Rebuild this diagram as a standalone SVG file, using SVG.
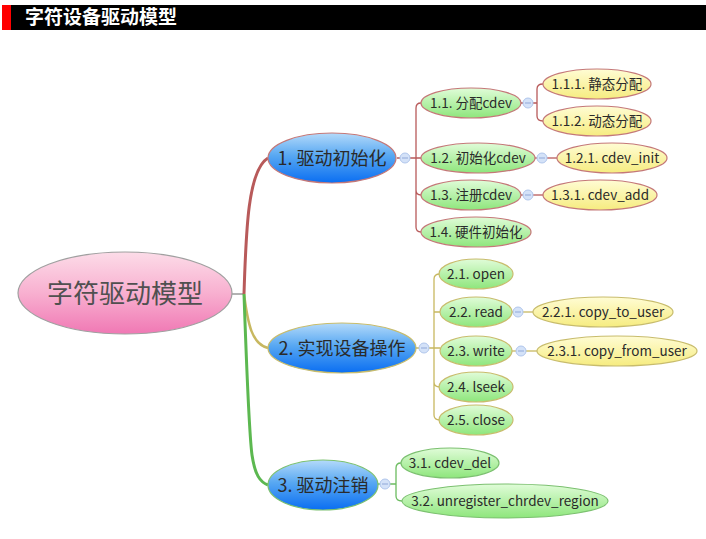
<svg xmlns="http://www.w3.org/2000/svg" width="706" height="539" viewBox="0 0 706 539">
<defs>
<linearGradient id="gPink" x1="0" y1="0" x2="0" y2="1"><stop offset="0" stop-color="#fcdce8"/><stop offset="0.5" stop-color="#f8b0d0"/><stop offset="1" stop-color="#f078b4"/></linearGradient>
<linearGradient id="gBlue" x1="0" y1="0" x2="0" y2="1"><stop offset="0" stop-color="#b4dafa"/><stop offset="0.45" stop-color="#58a8f2"/><stop offset="1" stop-color="#0a6ef2"/></linearGradient>
<linearGradient id="gGreen" x1="0" y1="0" x2="0" y2="1"><stop offset="0" stop-color="#e0fcd8"/><stop offset="1" stop-color="#8ee67c"/></linearGradient>
<linearGradient id="gYellow" x1="0" y1="0" x2="0" y2="1"><stop offset="0" stop-color="#fffcd4"/><stop offset="1" stop-color="#f6ec80"/></linearGradient>
</defs>
<style>
text{font-family:"Noto Sans CJK SC","Noto Sans",sans-serif;text-anchor:middle;fill:#2a2a2a}
.l1{font-size:18px}
.l2{font-size:13.5px}
.root{font-size:26px;fill:#505050}
.blue{fill:url(#gBlue)}
.green{fill:url(#gGreen)}
.yellow{fill:url(#gYellow)}
.sr{stroke:#c47878;stroke-width:1.2}
.so{stroke:#c8bc6c;stroke-width:1.2}
.sg{stroke:#7cc070;stroke-width:1.2}
.cr{fill:none;stroke:#b85a5a;stroke-width:1.3}
.co{fill:none;stroke:#c8b860;stroke-width:1.3}
.cg{fill:none;stroke:#6cbc60;stroke-width:1.3}
.dot{fill:#d4e2f8;stroke:#b0c6ec;stroke-width:1}
.dm{stroke:#90a8d8;stroke-width:1}
</style>
<g id="header">
<rect x="2" y="5" width="704" height="25" fill="#000"/>
<rect x="2" y="5" width="9" height="25" fill="#ff0000"/>
<text x="25" y="24" style="text-anchor:start;font-size:19px;font-weight:bold;fill:#fff">字符设备驱动模型</text>
</g>
<g id="connectors">
<path d="M232,294 H244" fill="none" stroke="#999" stroke-width="1.5"/>
<path d="M244,294 C246,230 248,170 268,158" fill="none" stroke="#b85a5a" stroke-width="3"/>
<path d="M244,294 C248,325 252,344 268,348" fill="none" stroke="#c8b860" stroke-width="2.5"/>
<path d="M244,294 C247,380 250,440 252,455 C255,475 260,482 268,485" fill="none" stroke="#5cb850" stroke-width="3"/>
<path class="cr" d="M397,158 H416 M416,158 V108 Q416,103 421,103 M416,158 H421 M416,158 V190 Q416,195 421,195 M416,190 V227 Q416,232 421,232"/>
<path class="cr" d="M521,103 H537 M537,103 V89 Q537,84 543,84 M537,103 V116 Q537,121 543,121"/>
<path class="cr" d="M535,158 H557"/>
<path class="cr" d="M521,195 H544"/>
<path class="co" d="M416,348 H434 M434,348 V279 Q434,274 440,274 M434,312 Q434,312 440,312 M434,348 H440 M434,348 V382 Q434,387 440,387 M434,382 V415 Q434,420 440,420"/>
<path class="co" d="M512,312 H533"/>
<path class="co" d="M512,351 H537"/>
<path class="cg" d="M378,484 H396 M396,484 V468 Q396,463 401,463 M396,484 V496 Q396,501 402,501"/>
<g>
<circle class="dot" cx="405" cy="158" r="5"/><path class="dm" d="M402,158 H408"/>
<circle class="dot" cx="424" cy="348" r="5"/><path class="dm" d="M421,348 H427"/>
<circle class="dot" cx="385" cy="484" r="5"/><path class="dm" d="M382,484 H388"/>
<circle class="dot" cx="528" cy="103" r="5"/><path class="dm" d="M525,103 H531"/>
<circle class="dot" cx="542" cy="158" r="5"/><path class="dm" d="M539,158 H545"/>
<circle class="dot" cx="528" cy="195" r="5"/><path class="dm" d="M525,195 H531"/>
<circle class="dot" cx="518" cy="312" r="5"/><path class="dm" d="M515,312 H521"/>
<circle class="dot" cx="521" cy="351" r="5"/><path class="dm" d="M518,351 H524"/>
</g>
</g>
<g id="root"><ellipse cx="125" cy="293" rx="107" ry="41" fill="url(#gPink)" stroke="#a0a0a0" stroke-width="1.2"/><text class="root" x="125" y="303">字符驱动模型</text></g>
<g id="n1"><ellipse class="blue sr" cx="332" cy="158" rx="64" ry="25"/><text class="l1" x="332" y="165">1. 驱动初始化</text></g>
<g id="n2"><ellipse class="blue so" cx="342" cy="348" rx="74" ry="25"/><text class="l1" x="342" y="355">2. 实现设备操作</text></g>
<g id="n3"><ellipse class="blue sg" cx="323" cy="485" rx="55" ry="25"/><text class="l1" x="323" y="492">3. 驱动注销</text></g>
<g id="n11"><ellipse class="green sr" cx="471" cy="103" rx="50" ry="15"/><text class="l2" x="471" y="108">1.1. 分配cdev</text></g>
<g id="n12"><ellipse class="green sr" cx="478" cy="158" rx="57" ry="15"/><text class="l2" x="478" y="163">1.2. 初始化cdev</text></g>
<g id="n13"><ellipse class="green sr" cx="471" cy="195" rx="50" ry="15"/><text class="l2" x="471" y="200">1.3. 注册cdev</text></g>
<g id="n14"><ellipse class="green sr" cx="476" cy="232" rx="55" ry="15"/><text class="l2" x="476" y="237">1.4. 硬件初始化</text></g>
<g id="n111"><ellipse class="yellow sr" cx="597" cy="84" rx="54" ry="15"/><text class="l2" x="597" y="89">1.1.1. 静态分配</text></g>
<g id="n112"><ellipse class="yellow sr" cx="597" cy="121" rx="54" ry="15"/><text class="l2" x="597" y="126">1.1.2. 动态分配</text></g>
<g id="n121"><ellipse class="yellow sr" cx="612" cy="158" rx="55" ry="15"/><text class="l2" x="612" y="163">1.2.1. cdev_init</text></g>
<g id="n131"><ellipse class="yellow sr" cx="600" cy="195" rx="57" ry="15"/><text class="l2" x="600" y="200">1.3.1. cdev_add</text></g>
<g id="n21"><ellipse class="green so" cx="476" cy="274" rx="37" ry="15"/><text class="l2" x="476" y="279">2.1. open</text></g>
<g id="n22"><ellipse class="green so" cx="476" cy="312" rx="36" ry="15"/><text class="l2" x="476" y="317">2.2. read</text></g>
<g id="n23"><ellipse class="green so" cx="476" cy="351" rx="36" ry="15"/><text class="l2" x="476" y="356">2.3. write</text></g>
<g id="n24"><ellipse class="green so" cx="476" cy="387" rx="37" ry="15"/><text class="l2" x="476" y="392">2.4. lseek</text></g>
<g id="n25"><ellipse class="green so" cx="476" cy="420" rx="37" ry="15"/><text class="l2" x="476" y="425">2.5. close</text></g>
<g id="n221"><ellipse class="yellow so" cx="603" cy="312" rx="70" ry="15"/><text class="l2" x="603" y="317">2.2.1. copy_to_user</text></g>
<g id="n231"><ellipse class="yellow so" cx="617" cy="351" rx="80" ry="15"/><text class="l2" x="617" y="356">2.3.1. copy_from_user</text></g>
<g id="n31"><ellipse class="green sg" cx="450" cy="463" rx="49" ry="15"/><text class="l2" x="450" y="468">3.1. cdev_del</text></g>
<g id="n32"><ellipse class="green sg" cx="505" cy="501" rx="103" ry="17"/><text class="l2" x="505" y="506">3.2. unregister_chrdev_region</text></g>
</svg>
